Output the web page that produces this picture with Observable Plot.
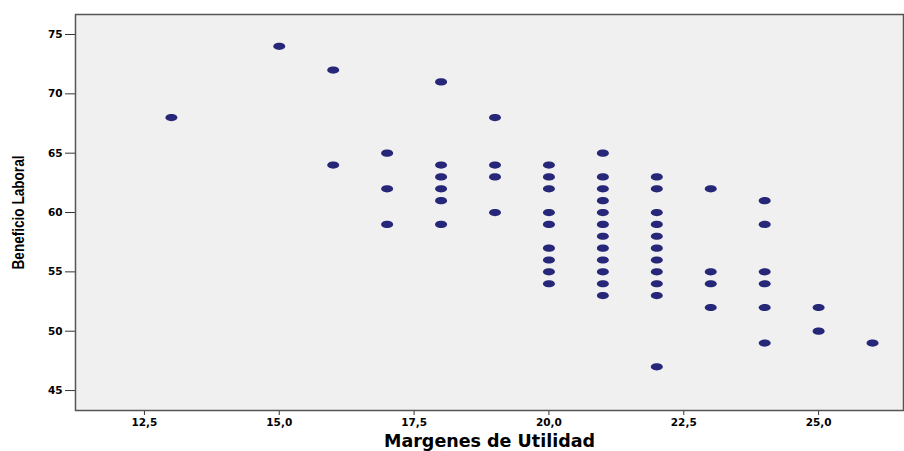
<!DOCTYPE html>
<html>
<head>
<meta charset="utf-8">
<script src="https://cdn.jsdelivr.net/npm/d3@7"></script>
<script src="https://cdn.jsdelivr.net/npm/@observablehq/plot@0.6"></script>
<style>
  html, body { margin: 0; padding: 0; background: #ffffff; }
  #chart svg { display: block; }
</style>
</head>
<body>
<div id="chart"></div>
<script>
// Margenes de Utilidad (x) and the Beneficio Laboral values observed at each
const margenes = [13, 15, 16, 17, 18, 19, 20, 21, 22, 23, 24, 25, 26];
const beneficio = [
  [68],
  [74],
  [72, 64],
  [65, 62, 59],
  [71, 64, 63, 62, 61, 59],
  [68, 64, 63, 60],
  [64, 63, 62, 60, 59, 57, 56, 55, 54],
  [65, 63, 62, 61, 60, 59, 58, 57, 56, 55, 54, 53],
  [63, 62, 60, 59, 58, 57, 56, 55, 54, 53, 47],
  [62, 55, 54, 52],
  [61, 59, 55, 54, 52, 49],
  [52, 50],
  [49]
];
const xTicks = [12.5, 15, 17.5, 20, 22.5, 25];
const yTicks = [45, 50, 55, 60, 65, 70, 75];
const xLabel = "Margenes de Utilidad";
const yLabel = "Beneficio Laboral";

const data = margenes.flatMap((m, i) => beneficio[i].map(b => ({margen: m, beneficio: b})));

const ellipse = {
  draw(context, size) {
    const rx = 6, ry = 3.6, k = 0.5523;
    context.moveTo(rx, 0);
    context.bezierCurveTo(rx, ry * k, rx * k, ry, 0, ry);
    context.bezierCurveTo(-rx * k, ry, -rx, ry * k, -rx, 0);
    context.bezierCurveTo(-rx, -ry * k, -rx * k, -ry, 0, -ry);
    context.bezierCurveTo(rx * k, -ry, rx, -ry * k, rx, 0);
    context.closePath();
  }
};

const fmt = d => d.toFixed(1).replace(".", ",");

const chart = Plot.plot({
  width: 904,
  height: 451,
  marginLeft: 75,
  marginTop: 14,
  marginRight: 1,
  marginBottom: 41,
  style: {background: "#ffffff", color: "#000000", fontFamily: "'DejaVu Sans', sans-serif"},
  x: {domain: [11.222, 26.574]},
  y: {domain: [43.32, 76.685]},
  marks: [
    Plot.frame({fill: "#f0f0f0", stroke: "none"}),
    Plot.axisX({ticks: xTicks, tickFormat: fmt, tickSize: 5, tickPadding: 3, fontSize: 10.5, fontWeight: "bold", label: null, stroke: "#333"}),
    Plot.axisY({ticks: yTicks, tickFormat: d => String(d), tickSize: 10, tickPadding: 3, fontSize: 10.5, fontWeight: "bold", label: null, stroke: "#333"}),
    Plot.dot(data, {x: "margen", y: "beneficio", symbol: ellipse, fill: "#272779", stroke: "none"}),
    Plot.frame({stroke: "#555", strokeWidth: 1.5}),
    Plot.text([xLabel], {frameAnchor: "bottom", lineAnchor: "middle", textAnchor: "middle", dy: 31, fontSize: 17.5, fontWeight: "bold", fontFamily: "'DejaVu Sans', sans-serif"}),
    Plot.text([yLabel], {className: "ylab", frameAnchor: "left", textAnchor: "middle", lineAnchor: "middle", rotate: -90, dx: -57, fontSize: 17, fontWeight: "bold", fontFamily: "'Liberation Sans', Arial, sans-serif"})
  ]
});
// condense the y-axis title horizontally (along its own text direction), like the reference's narrow font
d3.select(chart).selectAll(".ylab text").attr("transform", function () {
  return (this.getAttribute("transform") || "") + " scale(0.8,1)";
});
document.getElementById("chart").appendChild(chart);
</script>
</body>
</html>
